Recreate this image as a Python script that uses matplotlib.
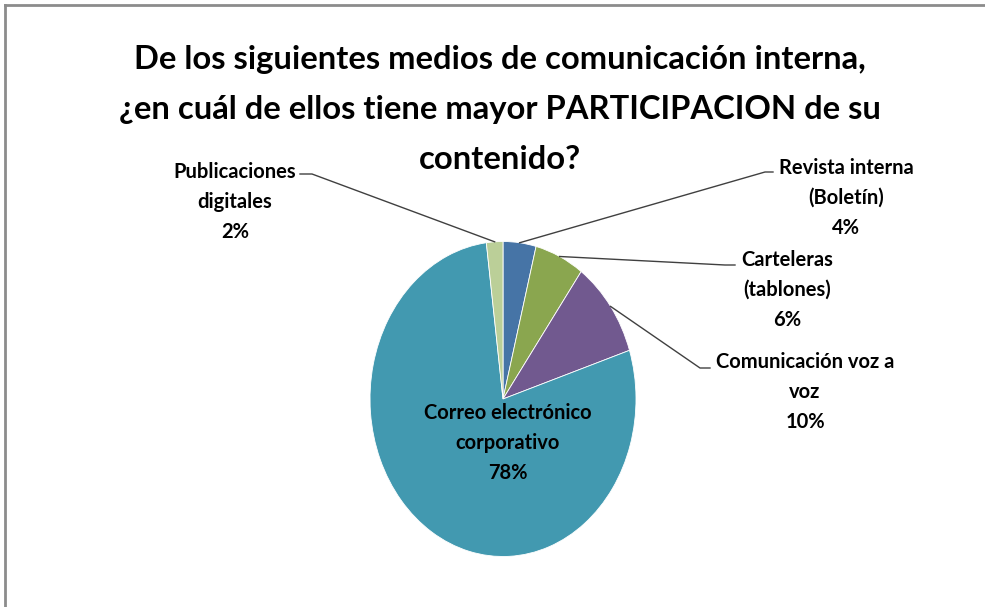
import numpy as np
import matplotlib
matplotlib.use("Agg")
import matplotlib.pyplot as plt
from matplotlib.lines import Line2D

W, H = 985, 607

title_lines = ["De los siguientes medios de comunicación interna,",
               "¿en cuál de ellos tiene mayor PARTICIPACION de su",
               "contenido?"]

categories = ["Revista interna\n(Boletín)", "Carteleras\n(tablones)",
              "Comunicación voz a\nvoz", "Correo electrónico\ncorporativo",
              "Publicaciones\ndigitales"]
values = [4, 6, 10, 78, 2]
colors = ["#4674A6", "#8AA64F", "#71598F", "#4299B0", "#BBCF98"]

# label centres (pixels from top-left) and leader elbow / end points
label_pos = [(846, 198), (787, 290), (805, 392), (508, 443), (235, 202)]
leader = [((765, 172), (773, 172)), ((725, 265), (735, 265)),
          ((700, 368), (710, 368)), None, ((312, 174), (300, 174))]

plt.rcParams["font.family"] = ["Lato", "DejaVu Sans"]
plt.rcParams["font.weight"] = "bold"

fig = plt.figure(figsize=(W / 100, H / 100), dpi=100)

# pie is drawn slightly stretched vertically, like the original
cx, cy, rx, ry = 503, 399, 133, 157.5
ax = fig.add_axes([(cx - rx) / W, (H - cy - ry) / H, 2 * rx / W, 2 * ry / H])
wedges, _ = ax.pie(values, colors=colors, startangle=90, counterclock=False,
                   wedgeprops=dict(edgecolor="white", linewidth=0.6))
ax.set_aspect("auto")
ax.set_xlim(-1, 1)
ax.set_ylim(-1, 1)
ax.axis("off")


def fx(x):
    return x / W


def fy(y):
    return 1 - y / H


# title, one text per line so the short last line keeps a tight box
for k, line in enumerate(title_lines):
    fig.text(fx(500), fy(69 + 50 * k), line, ha="center", va="baseline",
             fontsize=23.6, fontweight="bold")

total = sum(values)
for i, (name, v) in enumerate(zip(categories, values)):
    lx, ly = label_pos[i]
    fig.text(fx(lx), fy(ly), f"{name}\n{round(100 * v / total)}%",
             ha="center", va="center", fontsize=14.5, fontweight="bold",
             linespacing=1.6)
    if leader[i] is None:
        continue
    w = wedges[i]
    mid = np.deg2rad((w.theta1 + w.theta2) / 2)
    px, py = ax.transData.transform((np.cos(mid), np.sin(mid)))
    (ex, ey), (tx, ty) = leader[i]
    fig.add_artist(Line2D([px / W, fx(ex), fx(tx)], [py / H, fy(ey), fy(ty)],
                          color="#404040", linewidth=1.0,
                          transform=fig.transFigure))

# chart frame (top and left edges visible)
fig.add_artist(Line2D([fx(5), fx(985)], [fy(5), fy(5)], color="#8c8c8c",
                      linewidth=2, transform=fig.transFigure))
fig.add_artist(Line2D([fx(5), fx(5)], [fy(5), fy(607)], color="#8c8c8c",
                      linewidth=2, transform=fig.transFigure))

fig.savefig("out.png", dpi=100)
